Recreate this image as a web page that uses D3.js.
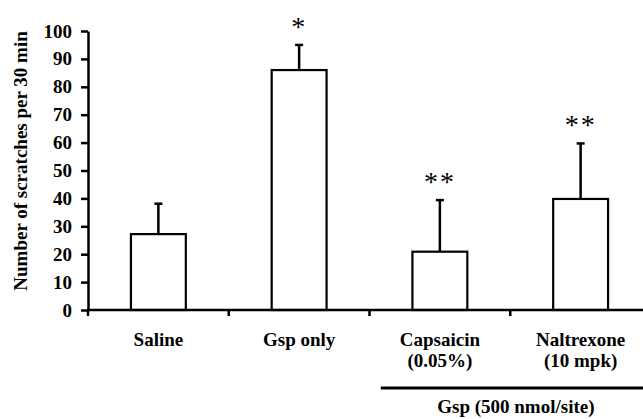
<!DOCTYPE html>
<html>
<head>
<meta charset="utf-8">
<script src="https://cdn.jsdelivr.net/npm/d3@7"></script>
<style>
  body { margin: 0; background: #fff; }
  svg { display: block; }
  #chart text { font-family: "Liberation Serif", Tinos, "Times New Roman", Times, "DejaVu Serif", serif; font-weight: bold; fill: #000; }
</style>
</head>
<body>
<svg id="chart" width="643" height="419"></svg>
<script>
// data
var categories = ["Saline", "Gsp only", "Capsaicin", "Naltrexone"];
var subLabels = ["", "", "(0.05%)", "(10 mpk)"];
var means = [27.2, 86.0, 20.9, 39.8];
var errors = [10.9, 9.0, 18.5, 19.9];
var marks = ["", "*", "**", "**"];
var yTicks = [0, 10, 20, 30, 40, 50, 60, 70, 80, 90, 100];
var groupLabel = "Gsp (500 nmol/site)";
var groupFrom = 2; // first category under the group line
var yTitle = "Number of scratches per 30 min";

var FONT = '"Liberation Serif", Tinos, "Times New Roman", Times, "DejaVu Serif", serif';

var svg = d3.select("#chart");

var x = d3.scaleBand()
    .domain(categories)
    .range([88, 651])
    .paddingInner(0.61)
    .paddingOuter(0.305);

var y = d3.scaleLinear()
    .domain([0, 100])
    .range([310, 31]);

// y axis
var yAxis = svg.append("g")
    .attr("transform", "translate(88,0)")
    .call(d3.axisLeft(y).tickValues(yTicks).tickSize(7).tickSizeOuter(0).tickPadding(9));

yAxis.attr("font-family", null).attr("font-size", null);
yAxis.select(".domain").attr("stroke", "#000").attr("stroke-width", 2.5);
yAxis.selectAll(".tick line").attr("stroke", "#000").attr("stroke-width", 2.5);
yAxis.selectAll(".tick text")
    .attr("font-family", FONT)
    .attr("font-weight", "bold")
    .attr("font-size", 19)
    .attr("fill", "#000");

svg.append("text")
    .attr("transform", "translate(27,161) rotate(-90)")
    .attr("text-anchor", "middle")
    .attr("font-family", FONT)
    .attr("font-size", 19)
    .text(yTitle);

// bars
var barG = svg.append("g");

barG.selectAll("rect")
    .data(means)
  .enter().append("rect")
    .attr("x", function(d, i) { return x(categories[i]); })
    .attr("y", function(d) { return y(d); })
    .attr("width", x.bandwidth())
    .attr("height", function(d) { return y(0) - y(d); })
    .attr("fill", "#fff")
    .attr("stroke", "#000")
    .attr("stroke-width", 2.2);

// error bars (upper only)
var errG = barG.selectAll("g.err")
    .data(means)
  .enter().append("g")
    .attr("class", "err")
    .attr("transform", function(d, i) {
        return "translate(" + (x(categories[i]) + x.bandwidth() / 2) + ",0)";
    });

errG.append("line")
    .attr("y1", function(d) { return y(d); })
    .attr("y2", function(d, i) { return y(d + errors[i]); })
    .attr("stroke", "#000")
    .attr("stroke-width", 2.5);

errG.append("line")
    .attr("x1", -4)
    .attr("x2", 4)
    .attr("y1", function(d, i) { return y(d + errors[i]); })
    .attr("y2", function(d, i) { return y(d + errors[i]); })
    .attr("stroke", "#000")
    .attr("stroke-width", 2.5);

errG.append("text")
    .attr("text-anchor", "middle")
    .attr("y", function(d, i) { return y(d + errors[i]) - 9; })
    .style("font-weight", "normal")
    .style("font-size", "28px")
    .style("letter-spacing", "2px")
    .text(function(d, i) { return marks[i]; });

// x axis line + boundary ticks
var x0 = x.range()[0];
svg.append("line")
    .attr("x1", x0 - 1)
    .attr("x2", x.range()[1])
    .attr("y1", y(0))
    .attr("y2", y(0))
    .attr("stroke", "#000")
    .attr("stroke-width", 2.5);

svg.selectAll("line.xtick")
    .data(categories)
  .enter().append("line")
    .attr("class", "xtick")
    .attr("x1", function(d, i) { return x0 + i * x.step(); })
    .attr("x2", function(d, i) { return x0 + i * x.step(); })
    .attr("y1", y(0))
    .attr("y2", y(0) + 6)
    .attr("stroke", "#000")
    .attr("stroke-width", 2.5);

// category labels
var labG = svg.selectAll("g.lab")
    .data(categories)
  .enter().append("g")
    .attr("class", "lab")
    .attr("transform", function(d) {
        return "translate(" + (x(d) + x.bandwidth() / 2) + ",0)";
    });

labG.append("text")
    .attr("y", 346)
    .attr("text-anchor", "middle")
    .style("font-size", "19px")
    .text(function(d) { return d; });

labG.append("text")
    .attr("y", 367)
    .attr("text-anchor", "middle")
    .style("font-size", "19px")
    .text(function(d, i) { return subLabels[i]; });

// group bracket
var gStart = x0 + groupFrom * x.step() + 0.08 * x.step();
var gEnd = x.range()[1];
svg.append("line")
    .attr("x1", gStart)
    .attr("x2", gEnd)
    .attr("y1", 388)
    .attr("y2", 388)
    .attr("stroke", "#000")
    .attr("stroke-width", 3);

svg.append("text")
    .attr("x", (gStart + gEnd) / 2)
    .attr("y", 413)
    .attr("text-anchor", "middle")
    .style("font-size", "19px")
    .text(groupLabel);
</script>
</body>
</html>
